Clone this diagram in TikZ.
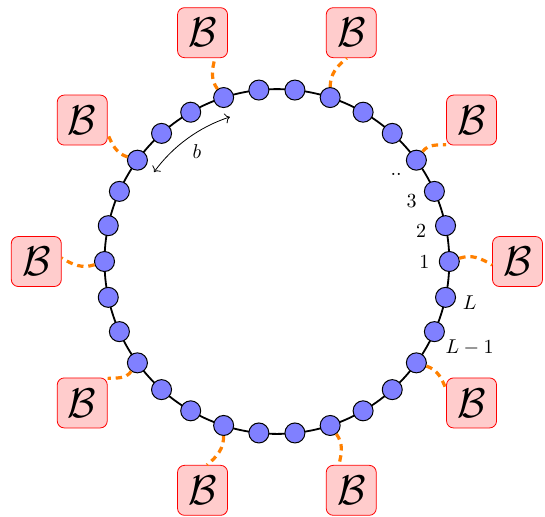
\documentclass[tikz,border=0pt]{standalone}
\usetikzlibrary{arrows.meta}
\begin{document}
\begin{tikzpicture}[x=0.5pt,y=0.5pt,
  bead/.style={circle,draw=black,line width=0.5pt,fill=blue!50,minimum size=10pt,inner sep=0pt},
  bbox/.style={draw=red,fill=red!20,rounded corners=3.5pt,minimum size=25pt,inner sep=1pt,font=\huge},
  conn/.style={orange,line width=1.6pt,dash pattern=on 3.2pt off 2.4pt},
  ring/.style={line width=0.9pt},
  lab/.style={inner sep=0pt}]
\useasboundingbox (-276.9,-254.5) rectangle (268.1,261.5);
\coordinate (c) at (0,0);
\draw[ring] (c) circle[radius=172.4];
\foreach \i in {0,...,29}{
  \node[bead] (b\i) at (\i*12:172.4) {};
}
\foreach \k in {0,...,9}{
  \pgfmathtruncatemacro{\j}{3*\k}
  \pgfmathtruncatemacro{\a}{36*\k}
  \pgfmathtruncatemacro{\sa}{\a+18}
  \pgfmathtruncatemacro{\ea}{\a+188}
  \pgfmathtruncatemacro{\ia}{\a+148}
  \node[bbox] (B\k) at (\a:240.6) {$\mathcal{B}$};
  \draw[conn] (b\j.\sa) to[out=\sa,in=\ia] (B\k.\ea);
}
\node[lab] (l1) at (0:147.4) {1};
\node[lab] (l2) at (12:147.4) {2};
\node[lab] (l3) at (24:147.4) {3};
\node[lab] (ld) at (36:147.4) {..};
\node[lab] (lL) at (348:197) {$L$};
\node[lab] (lL1) at (336:211) {$L-1$};
\coordinate (a1) at (144:152);
\coordinate (a2) at (108:152);
\draw[<->,line width=0.4pt] (a1) arc[start angle=144,end angle=108,radius=152];
\node[lab] (lb) at (126:136) {$b$};
\end{tikzpicture}
\end{document}
